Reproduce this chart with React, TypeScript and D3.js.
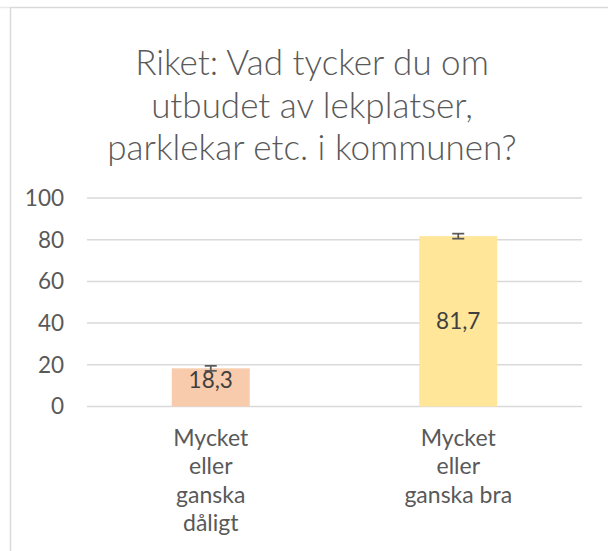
import React from "react";
import * as d3 from "d3";

const titleLines = ["Riket: Vad tycker du om", "utbudet av lekplatser,", "parklekar etc. i kommunen?"];
const categories = ["Mycket eller ganska dåligt", "Mycket eller ganska bra"];
const categoryLines = [["Mycket", "eller", "ganska", "dåligt"], ["Mycket", "eller", "ganska bra"]];
const values = [18.3, 81.7];
const errors = [1.2, 1.2];
const colors = ["#F8CBAD", "#FFE699"];
const yTicks = [0, 20, 40, 60, 80, 100];

const W = 608;
const H = 551;
const FONT = "Lato, 'Noto Sans', sans-serif";
const TEXT = "#595959";

export default function App() {
  const x = d3.scaleBand<string>().domain(categories).range([87, 582]).paddingInner(0.685).paddingOuter(0.3425);
  const y = d3.scaleLinear().domain([0, 100]).range([406.5, 198]);

  return (
    <svg width={W} height={H} style={{ display: "block", position: "absolute", left: 0, top: 0 }}>
      <rect x={0} y={0} width={W} height={H} fill="#fff" />
      <line x1={0} x2={10} y1={7.5} y2={7.5} stroke="#E8E8E8" strokeWidth={1.5} />
      <rect x={10.5} y={7.5} width={800} height={800} fill="#fff" stroke="#D9D9D9" strokeWidth={1.5} />
      {titleLines.map((t, i) => (
        <text key={i} x={312} y={75 + i * 42.5} textAnchor="middle" fontFamily={FONT} fontWeight={300} fontSize={35} fill={TEXT}>
          {t}
        </text>
      ))}
      {yTicks.map((t) => (
        <g key={t}>
          <line x1={87} x2={582} y1={y(t)} y2={y(t)} stroke="#D9D9D9" strokeWidth={1.5} />
          <text x={64} y={y(t)} dy="0.35em" textAnchor="end" fontFamily={FONT} fontSize={22.5} fill={TEXT}>
            {t}
          </text>
        </g>
      ))}
      {categories.map((c, i) => {
        const x0 = x(c)!;
        const bw = x.bandwidth();
        const cx = x0 + bw / 2;
        const yv = y(values[i]);
        const y0 = y(0);
        const h = y0 - yv;
        const ly = h < 50 ? yv + 12 : (y0 + yv) / 2;
        const eTop = y(values[i] + errors[i]);
        const eBot = y(values[i] - errors[i]);
        return (
          <g key={c}>
            <rect x={x0} y={yv} width={bw} height={h} fill={colors[i]} />
            <g stroke="#595959" strokeWidth={1.75}>
              <line x1={cx} x2={cx} y1={eTop} y2={eBot} />
              <line x1={cx - 6} x2={cx + 6} y1={eTop} y2={eTop} />
              <line x1={cx - 6} x2={cx + 6} y1={eBot} y2={eBot} />
            </g>
            <text x={cx} y={ly} dy="0.35em" textAnchor="middle" fontFamily={FONT} fontSize={22.5} fill="#404040">
              {values[i].toFixed(1).replace(".", ",")}
            </text>
            {categoryLines[i].map((l, j) => (
              <text key={j} x={cx} y={446 + j * 28.3} textAnchor="middle" fontFamily={FONT} fontSize={23} fill={TEXT}>
                {l}
              </text>
            ))}
          </g>
        );
      })}
    </svg>
  );
}
